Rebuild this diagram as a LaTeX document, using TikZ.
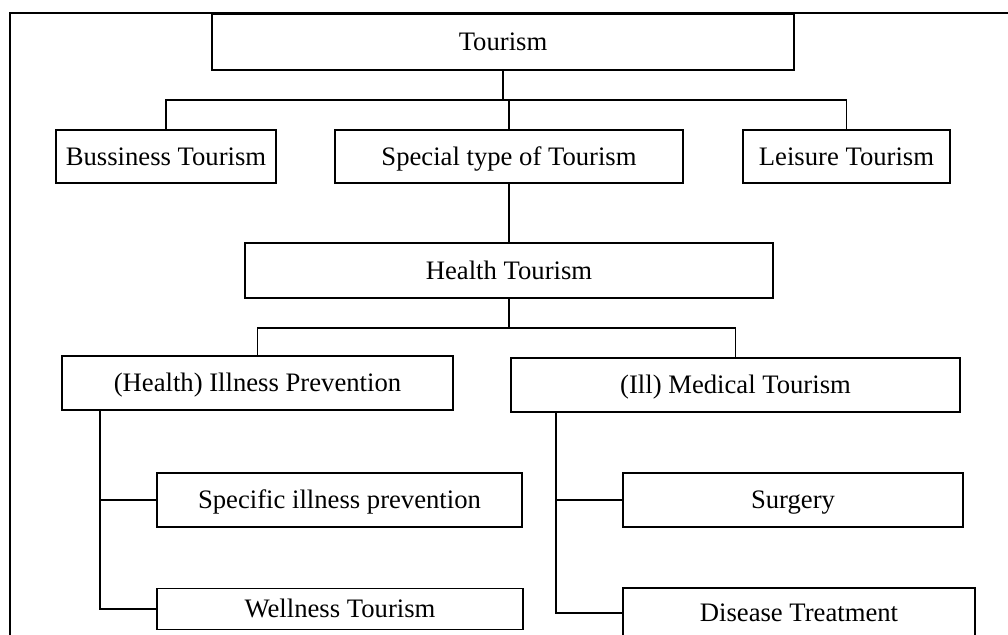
\documentclass[tikz,border=0pt]{standalone}
\usepackage{fontspec}
\setmainfont{Liberation Serif}
\begin{document}
\begin{tikzpicture}[x=0.75pt,y=-0.75pt,
  bx/.style={draw, line width=1.4pt, inner sep=0pt, font=\fontsize{20pt}{24pt}\selectfont,
    text height=13.2pt, text depth=0pt, anchor=center},
  ln/.style={line width=1.4pt}]
\useasboundingbox (0,0) rectangle (1008,635);
\clip (0,0) rectangle (1008,635);
% frame
\draw[line width=1.6pt] (10,640) -- (10,13) -- (1012,13);
% nodes
\node[bx, minimum width=582*0.75pt, minimum height=56*0.75pt] (tour) at (503,42) {Tourism};
\node[bx, minimum width=220*0.75pt, minimum height=53*0.75pt] (bus) at (166,156.5) {Bussiness Tourism};
\node[bx, minimum width=348*0.75pt, minimum height=53*0.75pt] (spec) at (509,156.5) {Special type of Tourism};
\node[bx, minimum width=207*0.75pt, minimum height=53*0.75pt] (lei) at (846.5,156.5) {Leisure Tourism};
\node[bx, minimum width=528*0.75pt, minimum height=55*0.75pt] (hea) at (509,270.5) {Health Tourism};
\node[bx, minimum width=391*0.75pt, minimum height=54*0.75pt] (ill) at (257.5,383) {(Health) Illness Prevention};
\node[bx, minimum width=449*0.75pt, minimum height=54*0.75pt] (med) at (735.5,385) {(Ill) Medical Tourism};
\node[bx, minimum width=365*0.75pt, minimum height=54*0.75pt] (sip) at (339.5,500) {Specific illness prevention};
\node[bx, minimum width=366*0.75pt, minimum height=41*0.75pt] (wel) at (340,609) {Wellness Tourism};
\node[bx, minimum width=340*0.75pt, minimum height=54*0.75pt] (sur) at (793,500) {Surgery};
\node[bx, minimum width=352*0.75pt, minimum height=50*0.75pt] (dis) at (799,613) {Disease Treatment};
% connectors
\coordinate (b1) at (503,100);
\coordinate (b2) at (509,328);
\coordinate (lt) at (100,410);
\coordinate (rt) at (556,412);
\draw[ln] (tour.south) -- (b1);
\draw[ln] (bus.north) -- (bus.north |- b1) -- (lei.north |- b1) -- (lei.north);
\draw[ln] (spec.north) -- (spec.north |- b1);
\draw[ln] (spec.south) -- (hea.north);
\draw[ln] (hea.south) -- (b2);
\draw[ln] (ill.north) -- (ill.north |- b2) -- (med.north |- b2) -- (med.north);
\draw[ln] (lt) |- (wel.west);
\draw[ln] (lt |- sip.west) -- (sip.west);
\draw[ln] (rt) |- (dis.west);
\draw[ln] (rt |- sur.west) -- (sur.west);
\end{tikzpicture}
\end{document}
